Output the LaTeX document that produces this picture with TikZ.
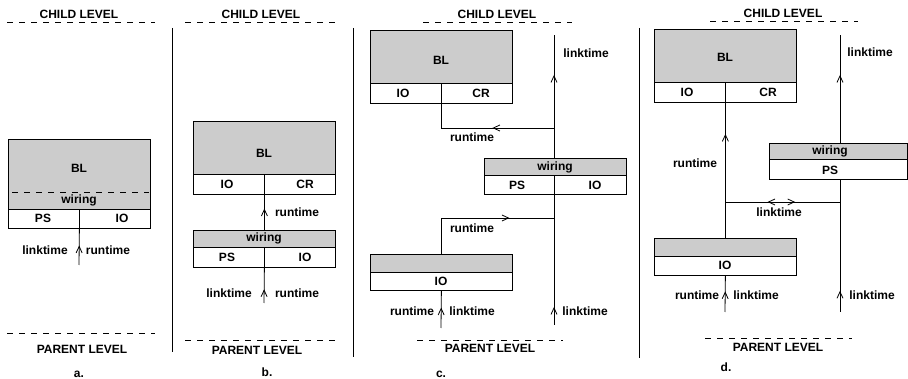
\documentclass[tikz,border=0pt]{standalone}
\usepackage{fontspec}
\setmainfont{Liberation Sans}
\usetikzlibrary{arrows.meta,decorations.markings}
\tikzset{
  lvl/.style={line width=0.8pt, dash pattern=on 6pt off 6pt},
  wire/.style={line width=0.8pt},
  graybox/.style={draw, fill=gray!40, line width=0.8pt, inner sep=0pt, anchor=north west},
  rowbox/.style={draw, fill=white, line width=0.8pt, inner sep=0pt, anchor=north west},
  lbl/.style={font=\bfseries\fontsize{12}{14}\selectfont, inner sep=0pt},
  tipat/.style={postaction={decorate, decoration={markings, mark=at position #1 with {\arrow{Straight Barb[length=6.5pt,width=6pt]}}}}},
  backtipat/.style={postaction={decorate, decoration={markings, mark=at position #1 with {\arrowreversed{Straight Barb[length=6.5pt,width=6pt]}}}}},
}
\begin{document}
\begin{tikzpicture}[x=1pt,y=-1pt]
  \useasboundingbox (0,0) rectangle (908,379);
  % separators
  \draw[wire] (172,28) -- (172,352);
  \draw[wire] (353,28) -- (353,357);
  \draw[wire] (639,28) -- (639,358);
%% a.
  \node[lbl] (aChild) at (79,14) {CHILD LEVEL};
  \draw[lvl] (7,22.7) -- (155,22.7);
  \node[graybox, minimum width=142pt, minimum height=70pt] (aBL) at (8,139) {};
  \node[rowbox, minimum width=142pt, minimum height=19pt] (aRow) at (8,209) {};
  \draw[lvl] (12,192) -- (149,192);
  \node[lbl] (aBLt) at (79,168) {BL};
  \node[lbl] (aWiret) at (79,200) {wiring};
  \node[lbl] (aPS) at (43,218) {PS};
  \node[lbl] (aIO) at (122,218) {IO};
  \coordinate (aIn) at (79,265);
  \draw[wire, tipat=0.54] (aIn) -- (aRow.south);
  \draw[wire] (aRow.south) -- (aRow.north);
  \node[lbl] (aLink) at (45,250) {linktime};
  \node[lbl] (aRun) at (108,250) {runtime};
  \draw[lvl] (7,333) -- (155,333);
  \node[lbl] (aParent) at (82,349) {PARENT LEVEL};
  \node[lbl] (aCap) at (79,374) {a.};
%% b.
  \node[lbl] (bChild) at (261,14) {CHILD LEVEL};
  \draw[lvl] (185,22.7) -- (337,22.7);
  \node[graybox, minimum width=142pt, minimum height=53pt] (bBL) at (193,121) {};
  \node[rowbox, minimum width=142pt, minimum height=20pt] (bBLrow) at (193,174) {};
  \node[lbl] (bBLt) at (264,153) {BL};
  \node[lbl] (bIO) at (227,184) {IO};
  \node[lbl] (bCR) at (305,184) {CR};
  \draw[wire] (bBLrow.south) -- (bBLrow.north);
  \node[graybox, minimum width=142pt, minimum height=17pt] (bWire) at (193,230) {};
  \node[rowbox, minimum width=142pt, minimum height=20pt] (bRow) at (193,247) {};
  \node[lbl] (bWiret) at (264,238) {wiring};
  \node[lbl] (bPS) at (227,257) {PS};
  \node[lbl] (bIO2) at (305,257) {IO};
  \draw[wire, tipat=0.61] (bWire.north) -- (bBLrow.south);
  \node[lbl] (bRun1) at (297,212) {runtime};
  \coordinate (bIn) at (264,303);
  \draw[wire, tipat=0.39] (bIn) -- (bRow.south);
  \draw[wire] (bRow.south) -- (bRow.north);
  \node[lbl] (bLink) at (229,293) {linktime};
  \node[lbl] (bRun2) at (297,293) {runtime};
  \draw[lvl] (185,340) -- (337,340);
  \node[lbl] (bParent) at (257,350) {PARENT LEVEL};
  \node[lbl] (bCap) at (267,372) {b.};
%% c.
  \node[lbl] (cChild) at (497,14) {CHILD LEVEL};
  \draw[lvl] (423,22.7) -- (572,22.7);
  \node[graybox, minimum width=142pt, minimum height=53pt] (cBL) at (370,30) {};
  \node[rowbox, minimum width=142pt, minimum height=20pt] (cBLrow) at (370,83) {};
  \node[lbl] (cBLt) at (441,60) {BL};
  \node[lbl] (cIO) at (403,93) {IO};
  \node[lbl] (cCR) at (481,93) {CR};
  \draw[wire] (cBLrow.south) -- (cBLrow.north);
  \node[graybox, minimum width=142pt, minimum height=17pt] (cWire) at (484,158) {};
  \node[rowbox, minimum width=142pt, minimum height=19pt] (cWireRow) at (484,175) {};
  \node[lbl] (cWiret) at (555,167) {wiring};
  \node[lbl] (cPS) at (517,185) {PS};
  \node[lbl] (cIO2) at (595,185) {IO};
  \node[graybox, minimum width=142pt, minimum height=18pt] (cLow) at (370,254) {};
  \node[rowbox, minimum width=142pt, minimum height=18pt] (cLowRow) at (370,272) {};
  \node[lbl] (cIO3) at (441,281) {IO};
  \coordinate (cTop) at (554,35);
  \coordinate (cBot) at (554,325);
  \coordinate (cJoinA) at (554,128);
  \coordinate (cJoinB) at (554,218);
  \draw[wire, tipat=0.675] (cTop |- cWire.north) -- (cTop);
  \draw[wire, tipat=0.12] (cBot) -- (cBot |- cWireRow.north);
  \draw[wire, tipat=0.45] (cJoinA) -| (cBLrow.south);
  \draw[wire, tipat=0.70] (cLow.north) |- (cJoinB);
  \coordinate (cIn) at (441,328);
  \draw[wire, tipat=0.55] (cIn) -- (cLowRow.south);
  \node[lbl] (cLink1) at (586,53) {linktime};
  \node[lbl] (cRun1) at (472,137) {runtime};
  \node[lbl] (cRun2) at (472,228) {runtime};
  \node[lbl] (cRun3) at (412,311) {runtime};
  \node[lbl] (cLink2) at (472,311) {linktime};
  \node[lbl] (cLink3) at (585,311) {linktime};
  \draw[lvl] (417,340) -- (563,340);
  \node[lbl] (cParent) at (490,348) {PARENT LEVEL};
  \node[lbl] (cCap) at (441,374) {c.};
%% d.
  \node[lbl] (dChild) at (783,13) {CHILD LEVEL};
  \draw[lvl] (710,21) -- (858,21);
  \node[graybox, minimum width=142pt, minimum height=53pt] (dBL) at (654,29) {};
  \node[rowbox, minimum width=142pt, minimum height=20pt] (dBLrow) at (654,82) {};
  \node[lbl] (dBLt) at (725,57) {BL};
  \node[lbl] (dIO) at (687,92) {IO};
  \node[lbl] (dCR) at (768,92) {CR};
  \draw[wire] (dBLrow.south) -- (dBLrow.north);
  \node[graybox, minimum width=138pt, minimum height=16pt] (dWire) at (769,143) {};
  \node[rowbox, minimum width=138pt, minimum height=20pt] (dWireRow) at (769,159) {};
  \node[lbl] (dWiret) at (830,151) {wiring};
  \node[lbl] (dPS) at (830,170) {PS};
  \node[graybox, minimum width=142pt, minimum height=18pt] (dLow) at (654,238) {};
  \node[rowbox, minimum width=142pt, minimum height=19pt] (dLowRow) at (654,256) {};
  \node[lbl] (dIO3) at (725,265) {IO};
  \coordinate (dTop) at (840,35);
  \coordinate (dBot) at (840,312);
  \coordinate (dJoinL) at (725,202);
  \coordinate (dJoinR) at (840,202);
  \draw[wire, tipat=0.77] (dLow.north) -- (dBLrow.south);
  \draw[wire, tipat=0.63] (dTop |- dWire.north) -- (dTop);
  \draw[wire, tipat=0.16] (dBot) -- (dBot |- dWireRow.south);
  \draw[wire, backtipat=0.37, tipat=0.61] (dJoinL) -- (dJoinR);
  \coordinate (dIn) at (725,312);
  \draw[wire, tipat=0.57] (dIn) -- (dLowRow.south);
  \node[lbl] (dLink1) at (870,52) {linktime};
  \node[lbl] (dRun1) at (695,163) {runtime};
  \node[lbl] (dLink2) at (779,212) {linktime};
  \node[lbl] (dRun2) at (697,295) {runtime};
  \node[lbl] (dLink3) at (756,295) {linktime};
  \node[lbl] (dLink4) at (872,295) {linktime};
  \draw[lvl] (705,338) -- (852,338);
  \node[lbl] (dParent) at (778,347) {PARENT LEVEL};
  \node[lbl] (dCap) at (726,367) {d.};
\end{tikzpicture}
\end{document}
